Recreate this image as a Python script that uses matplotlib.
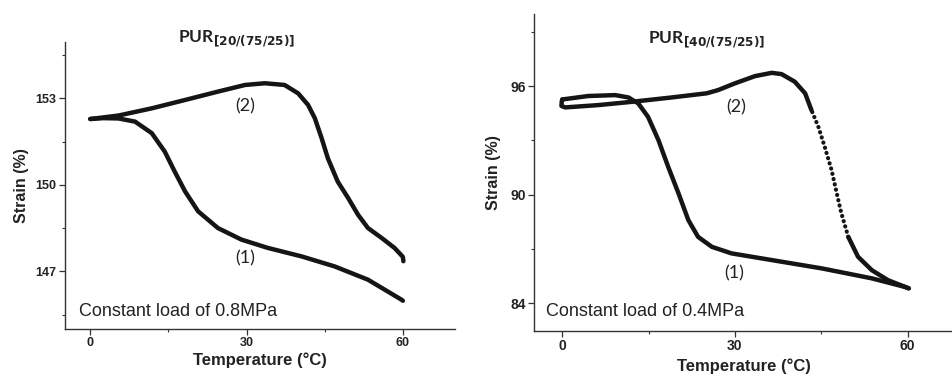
import matplotlib
matplotlib.use("Agg")
import matplotlib.pyplot as plt
from matplotlib.ticker import MultipleLocator

# left panel: PUR[20/(75/25)], constant load 0.8 MPa
t1_left = [0, 2.5, 5.4, 8.6, 11.8, 14.3, 16.2, 18.2, 20.7, 24.5, 29.0, 34.1, 40.5, 46.9, 53.3, 59.7, 60.0]
s1_left = [152.28, 152.31, 152.3, 152.19, 151.79, 151.15, 150.46, 149.77, 149.08, 148.5, 148.1,
           147.81, 147.52, 147.17, 146.71, 146.02, 145.98]
t2_left = [0, 5.4, 11.8, 18.2, 24.5, 29.7, 33.5, 37.3, 39.9, 41.8, 43.1, 44.4, 45.6, 47.5, 49.5,
           51.4, 53.3, 55.9, 58.4, 60.0, 60.1]
s2_left = [152.28, 152.4, 152.65, 152.94, 153.23, 153.46, 153.52, 153.46, 153.17, 152.77, 152.31,
           151.62, 150.92, 150.11, 149.54, 148.96, 148.5, 148.16, 147.81, 147.5, 147.35]

# right panel: PUR[40/(75/25)], constant load 0.4 MPa
t1_right = [0, 4.5, 9.2, 11.5, 13.2, 14.9, 16.7, 18.4, 20.2, 21.9, 23.6, 26.0, 29.4, 36.4, 45.1,
            53.8, 59.5, 60.2]
s1_right = [95.26, 95.45, 95.5, 95.37, 95.04, 94.3, 93.02, 91.54, 90.07, 88.6, 87.67, 87.12, 86.76,
            86.39, 85.93, 85.38, 84.91, 84.83]
t2_right = [60.2, 56.6, 53.8, 51.4, 49.7, 48.5, 47.7, 46.8, 45.6, 44.5, 43.3, 42.2, 40.4, 38.1,
            36.4, 33.5, 30.0, 27.1, 25.1, 19.0, 12.1, 6.3, 0.5, -0.15, -0.1, 0]
s2_right = [84.83, 85.28, 85.83, 86.57, 87.67, 88.97, 90.07, 91.36, 92.65, 93.75, 94.67, 95.6,
            96.24, 96.66, 96.73, 96.55, 96.15, 95.78, 95.6, 95.37, 95.13, 94.95, 94.82, 94.9, 95.15, 95.26]

ink = "#151515"
txt = "#222222"
fig = plt.figure(figsize=(9.53, 3.76), dpi=100)


def style_axes(ax, fs):
    for side in ["top", "right"]:
        ax.spines[side].set_visible(False)
    for side in ["left", "bottom"]:
        ax.spines[side].set_color("#333333")
        ax.spines[side].set_linewidth(1.0)
    ax.tick_params(which="major", direction="out", length=4, width=0.9, color="#333333",
                   labelsize=fs, pad=2)
    ax.tick_params(which="minor", direction="out", length=2.5, width=0.8, color="#333333")
    for lab in ax.get_xticklabels() + ax.get_yticklabels():
        lab.set_fontweight("bold")
        lab.set_family("Liberation Sans")
        lab.set_color(txt)


def curve(ax, x, y, **kw):
    ax.plot(x, y, color=ink, lw=3.2, solid_capstyle="round", solid_joinstyle="round", **kw)


# ---- left panel
ax1 = fig.add_axes([0.0682, 0.125, 0.4092, 0.7633])
curve(ax1, t1_left, s1_left)
curve(ax1, t2_left, s2_left)
ax1.set_xlim(-4.85, 70)
ax1.set_ylim(145.0, 154.95)
ax1.set_xticks([0, 30, 60])
ax1.xaxis.set_minor_locator(MultipleLocator(15))
ax1.set_yticks([147, 150, 153])
ax1.set_yticks([145.5, 148.5, 151.5, 154.5], minor=True)
style_axes(ax1, 9)
ax1.set_xlabel("Temperature (°C)", fontsize=12, fontweight="bold", family="Liberation Sans",
               color=txt, labelpad=2)
ax1.set_ylabel("Strain (%)", fontsize=11.5, fontweight="bold", family="Liberation Sans",
               color=txt, labelpad=5)
ax1.text(16.8, 154.92, r"PUR$_{\mathbf{[20/(75/25)]}}$", fontsize=12.5, fontweight="bold",
         family="Lato", color=txt, ha="left", va="baseline", clip_on=False)
ax1.text(29.65, 152.71, "(2)", fontsize=13, family="Lato", color=txt, ha="center", va="center")
ax1.text(29.65, 147.46, "(1)", fontsize=13, family="Lato", color=txt, ha="center", va="center")
ax1.text(-2.17, 145.62, "Constant load of 0.8MPa", fontsize=13, family="Liberation Sans",
         color=txt, ha="left", va="center")

# ---- right panel
ax2 = fig.add_axes([0.5607, 0.1205, 0.4393, 0.8423])
curve(ax2, t1_right, s1_right)
# steep part of the recovery branch is sparsely sampled in the original -> dotted look
curve(ax2, t2_right[:5], s2_right[:5])
ax2.plot(t2_right[4:11], s2_right[4:11], color=ink, lw=3.0, dash_capstyle="round",
         linestyle=(0, (0.05, 1.25)))
curve(ax2, t2_right[10:], s2_right[10:])
ax2.set_xlim(-4.86, 67.9)
ax2.set_ylim(82.49, 99.98)
ax2.set_xticks([0, 30, 60])
ax2.xaxis.set_minor_locator(MultipleLocator(15))
ax2.set_yticks([84, 90, 96])
ax2.set_yticks([87, 93, 99], minor=True)
style_axes(ax2, 10)
ax2.set_xlabel("Temperature (°C)", fontsize=12, fontweight="bold", family="Liberation Sans",
               color=txt, labelpad=4)
ax2.set_ylabel("Strain (%)", fontsize=11.5, fontweight="bold", family="Liberation Sans",
               color=txt, labelpad=7)
ax2.text(14.84, 98.36, r"PUR$_{\mathbf{[40/(75/25)]}}$", fontsize=12.5, fontweight="bold",
         family="Lato", color=txt, ha="left", va="baseline")
ax2.text(30.3, 94.82, "(2)", fontsize=13, family="Lato", color=txt, ha="center", va="center")
ax2.text(29.9, 85.65, "(1)", fontsize=13, family="Lato", color=txt, ha="center", va="center")
ax2.text(-2.88, 83.53, "Constant load of 0.4MPa", fontsize=13, family="Liberation Sans",
         color=txt, ha="left", va="center")

fig.savefig("out.png", dpi=100)
